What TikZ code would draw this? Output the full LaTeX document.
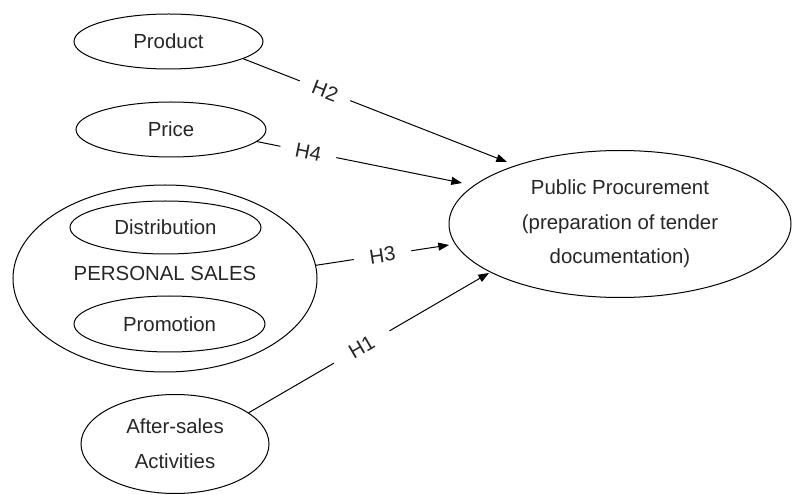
\documentclass[tikz,border=0pt]{standalone}
\usepackage{fontspec}
\setmainfont{Liberation Sans}
\usetikzlibrary{shapes.geometric,arrows.meta}
\begin{document}
\begin{tikzpicture}[x=0.75pt,y=-0.75pt,
  every node/.style={font=\fontsize{15.3pt}{26pt}\selectfont, text=black!85},
  oval/.style={draw, ellipse, inner sep=0pt, line width=0.75pt},
  link/.style={draw, line width=0.75pt, -{Triangle[length=8pt,width=6pt]}},
  hlab/.style={fill=white, sloped, inner sep=0pt, minimum height=14pt}]
\useasboundingbox (0,0) rectangle (793,495);
\node[oval, minimum width=141.75pt, minimum height=41.25pt] (product) at (168.5,41.5) {Product};
\node[oval, minimum width=142.5pt, minimum height=41.25pt] (price) at (171,129.5) {Price};
\node[oval, minimum width=228pt, minimum height=140.25pt] (sales) at (165,278.5) {};
\node (salestext) at (165,273) {PERSONAL SALES};
\node[oval, minimum width=143.25pt, minimum height=39.75pt] (distribution) at (165.5,227.5) {Distribution};
\node[oval, minimum width=143.25pt, minimum height=42pt] (promotion) at (169.5,324) {Promotion};
\node[oval, minimum width=141pt, minimum height=74.25pt, align=center] (after) at (175,444) {After-sales\\Activities};
\node[oval, minimum width=256.5pt, minimum height=110.25pt, align=center] (pp) at (620,224) {Public Procurement\\(preparation of tender\\documentation)};
\coordinate (t2) at (507,162);
\coordinate (t4) at (462,183);
\coordinate (t3) at (449,245);
\coordinate (t1) at (489,273);
\draw[link] (product.-13.4) -- node[hlab, pos=0.31, minimum width=40.5pt] (h2) {H2} (t2);
\draw[link] (price.-8.9) -- node[hlab, pos=0.25, minimum width=42.75pt] (h4) {H4} (t4);
\draw[link] (sales.5.8) -- node[hlab, pos=0.5, minimum width=43.5pt] (h3) {H3} (t3);
\draw[link] (after.23) -- node[hlab, pos=0.47, minimum width=48pt] (h1) {H1} (t1);
\end{tikzpicture}
\end{document}
